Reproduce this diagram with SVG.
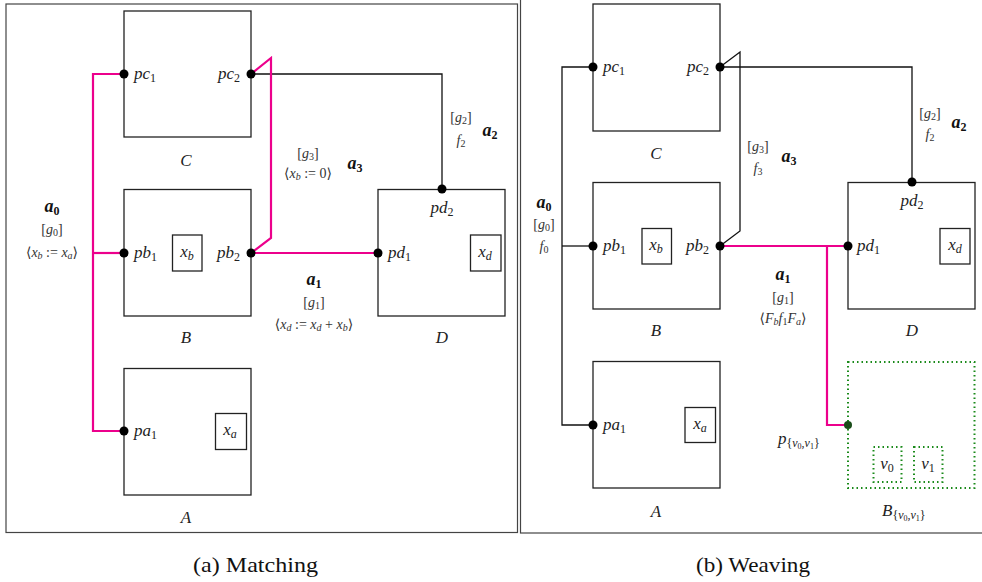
<svg xmlns="http://www.w3.org/2000/svg" width="982" height="582" viewBox="0 0 982 582">
<style>
.frame{fill:none;stroke:#444;stroke-width:1.2}
.box{fill:none;stroke:#222;stroke-width:1.3}
.gbox{fill:none;stroke:#1a8a1a;stroke-width:2;stroke-dasharray:1.5 3}
.w{fill:none;stroke:#111;stroke-width:1.3}
.m{fill:none;stroke:#ec008c;stroke-width:2.2}
.t{font-family:"Liberation Serif","DejaVu Serif",serif;font-style:italic;font-size:17px;fill:#222}
.s{font-family:"Liberation Serif","DejaVu Serif",serif;font-size:14px;fill:#333}
.b{font-family:"Liberation Serif","DejaVu Serif",serif;font-style:italic;font-weight:bold;font-size:18px;fill:#111}
.cap{font-family:"Liberation Serif",serif;font-size:22px;fill:#111}
.sub{font-size:12px;font-style:normal}
.si{font-size:12px;font-style:italic}
.ss{font-size:10px;font-style:normal}
.ssi{font-size:10px;font-style:italic}
.i{font-style:italic}
.g{fill:#1a4d1a}
</style>
<rect x="0" y="0" width="982" height="582" fill="#fff"/>
<rect class="frame" x="6" y="4" width="511.5" height="528.5"/>
<rect class="frame" x="520.5" y="-2" width="470" height="535"/>

<g id="connectors">
  <polyline class="w" points="251,74 442,74 442,189"/>
  <polyline class="m" points="124,74 93,74 93,431 124,431"/>
  <line class="m" x1="93" y1="253" x2="124" y2="253"/>
  <polyline class="m" points="251,74 271,58 271,238 251,253"/>
  <line class="m" x1="251" y1="253" x2="378" y2="253"/>
  <polyline class="w" points="720,67 912,67 912,182"/>
  <polyline class="w" points="593,67 562,67 562,425 593,425"/>
  <line class="w" x1="562" y1="246" x2="593" y2="246"/>
  <polyline class="w" points="720,67 740,52 740,231 720,246"/>
  <line class="m" x1="720" y1="246" x2="848" y2="246"/>
  <polyline class="m" points="827,246 827,425 848,425"/>
</g>

<g id="C-a">
  <rect class="box" x="124" y="11" width="127" height="126"/>
  <circle cx="124" cy="74" r="4.5"/><circle cx="251" cy="74" r="4.5"/>
  <text class="t" x="134" y="79">pc<tspan class="sub" dy="3">1</tspan></text>
  <text class="t" x="240" y="79" text-anchor="end">pc<tspan class="sub" dy="3">2</tspan></text>
  <text class="t" x="186" y="166" text-anchor="middle">C</text>
</g>
<g id="B-a">
  <rect class="box" x="124" y="189.5" width="127" height="126.5"/>
  <rect class="box" x="172.5" y="235" width="29.5" height="36"/>
  <circle cx="124" cy="253" r="4.5"/><circle cx="251" cy="253" r="4.5"/>
  <text class="t" x="134" y="258">pb<tspan class="sub" dy="3">1</tspan></text>
  <text class="t" x="187" y="257" text-anchor="middle">x<tspan class="si" dy="3">b</tspan></text>
  <text class="t" x="240" y="258" text-anchor="end">pb<tspan class="sub" dy="3">2</tspan></text>
  <text class="t" x="186" y="343" text-anchor="middle">B</text>
</g>
<g id="D-a">
  <rect class="box" x="378" y="189.5" width="127" height="126.5"/>
  <rect class="box" x="470.5" y="235" width="30.5" height="36"/>
  <circle cx="378" cy="253" r="4.5"/><circle cx="442" cy="189" r="4.5"/>
  <text class="t" x="388" y="258">pd<tspan class="sub" dy="3">1</tspan></text>
  <text class="t" x="442" y="213" text-anchor="middle">pd<tspan class="sub" dy="3">2</tspan></text>
  <text class="t" x="485" y="257" text-anchor="middle">x<tspan class="si" dy="3">d</tspan></text>
  <text class="t" x="442" y="343" text-anchor="middle">D</text>
</g>
<g id="A-a">
  <rect class="box" x="124" y="368.5" width="127" height="126.5"/>
  <rect class="box" x="215.5" y="413.5" width="31" height="36"/>
  <circle cx="124" cy="431" r="4.5"/>
  <text class="t" x="134" y="436">pa<tspan class="sub" dy="3">1</tspan></text>
  <text class="t" x="230" y="435" text-anchor="middle">x<tspan class="si" dy="3">a</tspan></text>
  <text class="t" x="186" y="523" text-anchor="middle">A</text>
</g>
<g id="labels-a">
  <text class="b" x="52" y="212" text-anchor="middle">a<tspan class="sub" dy="3">0</tspan></text>
  <text class="s" x="52" y="234" text-anchor="middle">[<tspan class="i">g</tspan><tspan class="ss" dy="2">0</tspan><tspan dy="-2">]</tspan></text>
  <text class="s" x="52" y="257" text-anchor="middle">⟨<tspan class="i">x</tspan><tspan class="ssi" dy="2">b</tspan><tspan dy="-2">  :=  </tspan><tspan class="i">x</tspan><tspan class="ssi" dy="2">a</tspan><tspan dy="-2">⟩</tspan></text>
  <text class="b" x="314" y="285" text-anchor="middle">a<tspan class="sub" dy="3">1</tspan></text>
  <text class="s" x="314" y="307" text-anchor="middle">[<tspan class="i">g</tspan><tspan class="ss" dy="2">1</tspan><tspan dy="-2">]</tspan></text>
  <text class="s" x="314" y="329" text-anchor="middle">⟨<tspan class="i">x</tspan><tspan class="ssi" dy="2">d</tspan><tspan dy="-2">  :=  </tspan><tspan class="i">x</tspan><tspan class="ssi" dy="2">d</tspan><tspan dy="-2">  +  </tspan><tspan class="i">x</tspan><tspan class="ssi" dy="2">b</tspan><tspan dy="-2">⟩</tspan></text>
  <text class="s" x="461" y="122" text-anchor="middle">[<tspan class="i">g</tspan><tspan class="ss" dy="2">2</tspan><tspan dy="-2">]</tspan></text>
  <text class="s" x="461" y="145" text-anchor="middle"><tspan class="i">f</tspan><tspan class="ss" dy="2">2</tspan></text>
  <text class="b" x="490" y="136" text-anchor="middle">a<tspan class="sub" dy="3">2</tspan></text>
  <text class="s" x="308" y="158" text-anchor="middle">[<tspan class="i">g</tspan><tspan class="ss" dy="2">3</tspan><tspan dy="-2">]</tspan></text>
  <text class="s" x="308" y="178" text-anchor="middle">⟨<tspan class="i">x</tspan><tspan class="ssi" dy="2">b</tspan><tspan dy="-2">  :=  0⟩</tspan></text>
  <text class="b" x="355" y="169" text-anchor="middle">a<tspan class="sub" dy="3">3</tspan></text>
</g>

<g id="C-b">
  <rect class="box" x="593" y="4" width="127" height="127"/>
  <circle cx="593" cy="67" r="4.5"/><circle cx="720" cy="67" r="4.5"/>
  <text class="t" x="603" y="72">pc<tspan class="sub" dy="3">1</tspan></text>
  <text class="t" x="709" y="72" text-anchor="end">pc<tspan class="sub" dy="3">2</tspan></text>
  <text class="t" x="656" y="159" text-anchor="middle">C</text>
</g>
<g id="B-b">
  <rect class="box" x="593" y="182.5" width="127" height="126.5"/>
  <rect class="box" x="642" y="228.5" width="29.5" height="35.5"/>
  <circle cx="593" cy="246" r="4.5"/><circle cx="720" cy="246" r="4.5"/>
  <text class="t" x="603" y="251">pb<tspan class="sub" dy="3">1</tspan></text>
  <text class="t" x="656" y="250" text-anchor="middle">x<tspan class="si" dy="3">b</tspan></text>
  <text class="t" x="709" y="251" text-anchor="end">pb<tspan class="sub" dy="3">2</tspan></text>
  <text class="t" x="656" y="336" text-anchor="middle">B</text>
</g>
<g id="D-b">
  <rect class="box" x="848" y="182.5" width="127" height="126.5"/>
  <rect class="box" x="940" y="228.5" width="30" height="35.5"/>
  <circle cx="848" cy="246" r="4.5"/><circle cx="912" cy="182" r="4.5"/>
  <text class="t" x="857" y="251">pd<tspan class="sub" dy="3">1</tspan></text>
  <text class="t" x="912" y="206" text-anchor="middle">pd<tspan class="sub" dy="3">2</tspan></text>
  <text class="t" x="955" y="250" text-anchor="middle">x<tspan class="si" dy="3">d</tspan></text>
  <text class="t" x="912" y="336" text-anchor="middle">D</text>
</g>
<g id="A-b">
  <rect class="box" x="593" y="361.5" width="127" height="126.5"/>
  <rect class="box" x="685" y="407.5" width="30.5" height="35"/>
  <circle cx="593" cy="425" r="4.5"/>
  <text class="t" x="603" y="430">pa<tspan class="sub" dy="3">1</tspan></text>
  <text class="t" x="700" y="429" text-anchor="middle">x<tspan class="si" dy="3">a</tspan></text>
  <text class="t" x="656" y="517" text-anchor="middle">A</text>
</g>
<g id="Bv-b">
  <rect class="gbox" x="848" y="362" width="126.5" height="126"/>
  <rect class="gbox" x="873.5" y="447" width="28" height="35"/>
  <rect class="gbox" x="914" y="447" width="28.5" height="35"/>
  <circle class="g" cx="848" cy="425" r="4"/>
  <text class="t" x="887" y="469" text-anchor="middle" fill="#2a4a2a">v<tspan class="sub" dy="3">0</tspan></text>
  <text class="t" x="928" y="469" text-anchor="middle" fill="#2a4a2a">v<tspan class="sub" dy="3">1</tspan></text>
  <text class="t" x="778" y="444">p<tspan font-size="12" font-style="normal" dy="3">{</tspan><tspan font-size="12">v</tspan><tspan font-size="8" font-style="normal" dy="2">0</tspan><tspan font-size="12" dy="-2">,v</tspan><tspan font-size="8" font-style="normal" dy="2">1</tspan><tspan font-size="12" font-style="normal" dy="-2">}</tspan></text>
  <text class="t" x="882" y="516">B<tspan font-size="12" font-style="normal" dy="3">{</tspan><tspan font-size="12">v</tspan><tspan font-size="8" font-style="normal" dy="2">0</tspan><tspan font-size="12" dy="-2">,v</tspan><tspan font-size="8" font-style="normal" dy="2">1</tspan><tspan font-size="12" font-style="normal" dy="-2">}</tspan></text>
</g>
<g id="labels-b">
  <text class="b" x="544" y="208" text-anchor="middle">a<tspan class="sub" dy="3">0</tspan></text>
  <text class="s" x="544" y="229" text-anchor="middle">[<tspan class="i">g</tspan><tspan class="ss" dy="2">0</tspan><tspan dy="-2">]</tspan></text>
  <text class="s" x="544" y="251" text-anchor="middle"><tspan class="i">f</tspan><tspan class="ss" dy="2">0</tspan></text>
  <text class="b" x="783" y="280" text-anchor="middle">a<tspan class="sub" dy="3">1</tspan></text>
  <text class="s" x="783" y="302" text-anchor="middle">[<tspan class="i">g</tspan><tspan class="ss" dy="2">1</tspan><tspan dy="-2">]</tspan></text>
  <text class="s" x="783" y="323" text-anchor="middle">⟨<tspan class="i">F</tspan><tspan class="ssi" dy="2">b</tspan><tspan dy="-2" class="i">f</tspan><tspan class="ss" dy="2">1</tspan><tspan dy="-2" class="i">F</tspan><tspan class="ssi" dy="2">a</tspan><tspan dy="-2">⟩</tspan></text>
  <text class="s" x="930" y="118" text-anchor="middle">[<tspan class="i">g</tspan><tspan class="ss" dy="2">2</tspan><tspan dy="-2">]</tspan></text>
  <text class="s" x="930" y="139" text-anchor="middle"><tspan class="i">f</tspan><tspan class="ss" dy="2">2</tspan></text>
  <text class="b" x="959" y="128" text-anchor="middle">a<tspan class="sub" dy="3">2</tspan></text>
  <text class="s" x="758" y="151" text-anchor="middle">[<tspan class="i">g</tspan><tspan class="ss" dy="2">3</tspan><tspan dy="-2">]</tspan></text>
  <text class="s" x="758" y="173" text-anchor="middle"><tspan class="i">f</tspan><tspan class="ss" dy="2">3</tspan></text>
  <text class="b" x="789" y="162" text-anchor="middle">a<tspan class="sub" dy="3">3</tspan></text>
</g>

<text class="cap" x="193" y="572" textLength="125" lengthAdjust="spacingAndGlyphs">(a) Matching</text>
<text class="cap" x="696" y="572" textLength="114" lengthAdjust="spacingAndGlyphs">(b) Weaving</text>
</svg>
